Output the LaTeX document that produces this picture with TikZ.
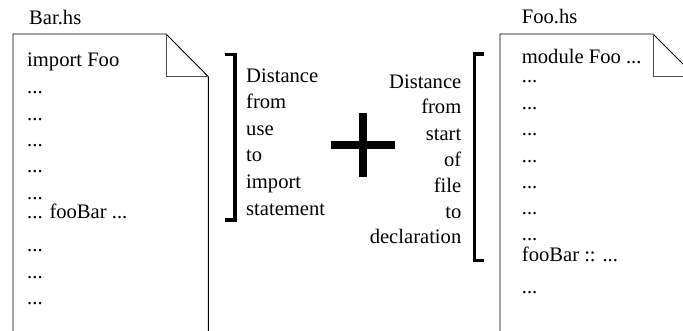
\documentclass[tikz,border=0pt]{standalone}
\usepackage{fontspec}
\setmainfont{Liberation Serif}
\begin{document}
\begin{tikzpicture}[x=1pt,y=-1pt,
  txt/.style={inner sep=0pt, font=\fontsize{20.6}{26}\selectfont},
  lt/.style={txt, anchor=base west},
  rt/.style={txt, anchor=base east},
  docline/.style={line width=0.9pt, black},
  foldline/.style={line width=0.9pt, black!70},
  brk/.style={line width=3.3pt, line cap=butt},
]
\useasboundingbox (0,0) rectangle (683,330);
\clip (0,0) rectangle (683,330);

% ---------- Bar.hs ----------
\node[lt] (barname) at (29,24) {Bar.hs};
\coordinate (b1) at (13,332);
\coordinate (b2) at (13,34);
\coordinate (b3) at (166,34);
\coordinate (b4) at (208.3,76.7);
\coordinate (b5) at (208.3,332);
\coordinate (bf) at (166,76.7);
\draw[docline] (b1) -- (b2) -- (b3) -- (b4) -- (b5);
\draw[foldline] (b3) -- (bf) -- (b4);

\node[lt] (l1) at (27,66) {import Foo};
\node[lt] (l2) at (27,93.5) {...};
\node[lt] (l3) at (27,120) {...};
\node[lt] (l4) at (27,146.5) {...};
\node[lt] (l5) at (27,172.5) {...};
\node[lt] (l6) at (27,199) {...};
\node[lt] (l7) at (27,218) {... fooBar ...};
\node[lt] (l8) at (27,251) {...};
\node[lt] (l9) at (27,278) {...};
\node[lt] (l10) at (27,304) {...};

% ---------- left bracket ----------
\coordinate (lb1) at (224.5,54.5);
\coordinate (lb2) at (235,54.5);
\coordinate (lb3) at (235,220);
\coordinate (lb4) at (224.5,220);
\draw[brk] (lb1) -- (lb2) -- (lb3) -- (lb4);

\node[lt] (m1) at (246,82) {Distance};
\node[lt] (m2) at (246,108.5) {from};
\node[lt] (m3) at (246,135) {use};
\node[lt] (m4) at (246,161.5) {to};
\node[lt] (m5) at (246,188) {import};
\node[lt] (m6) at (246,215) {statement};

% ---------- plus ----------
\fill (331,140.9) rectangle (395.3,149.3);
\fill (359,113.3) rectangle (367.3,177.3);

% ---------- right text ----------
\node[rt] (r1) at (461.5,88) {Distance};
\node[rt] (r2) at (461.5,113.5) {from};
\node[rt] (r3) at (461.5,140) {start};
\node[rt] (r4) at (461.5,166) {of};
\node[rt] (r5) at (461.5,192) {file};
\node[rt] (r6) at (461.5,218.3) {to};
\node[rt] (r7) at (461.5,243.3) {declaration};

% ---------- right bracket ----------
\coordinate (rb1) at (483.5,54);
\coordinate (rb2) at (474.5,54);
\coordinate (rb3) at (474.5,260.5);
\coordinate (rb4) at (483.5,260.5);
\draw[brk] (rb1) -- (rb2) -- (rb3) -- (rb4);

% ---------- Foo.hs ----------
\node[lt] (fooname) at (521.7,23.5) {Foo.hs};
\coordinate (f1) at (500,332);
\coordinate (f2) at (500,34);
\coordinate (f3) at (653,34);
\coordinate (f4) at (695.7,76.7);
\coordinate (ff) at (653,76.7);
\draw[docline] (f1) -- (f2) -- (f3) -- (f4);
\draw[foldline] (f3) -- (ff) -- (f4);

\node[lt] (k1) at (521.7,63.5) {module Foo ...};
\node[lt] (k2) at (521.7,82.5) {...};
\node[lt] (k3) at (521.7,109) {...};
\node[lt] (k4) at (521.7,135.5) {...};
\node[lt] (k5) at (521.7,162) {...};
\node[lt] (k6) at (521.7,188) {...};
\node[lt] (k7) at (521.7,214.5) {...};
\node[lt] (k8) at (521.7,240.5) {...};
\node[lt] (k9) at (521.7,261) {fooBar :: ...};
\node[lt] (k10) at (521.7,293.5) {...};
\end{tikzpicture}
\end{document}
